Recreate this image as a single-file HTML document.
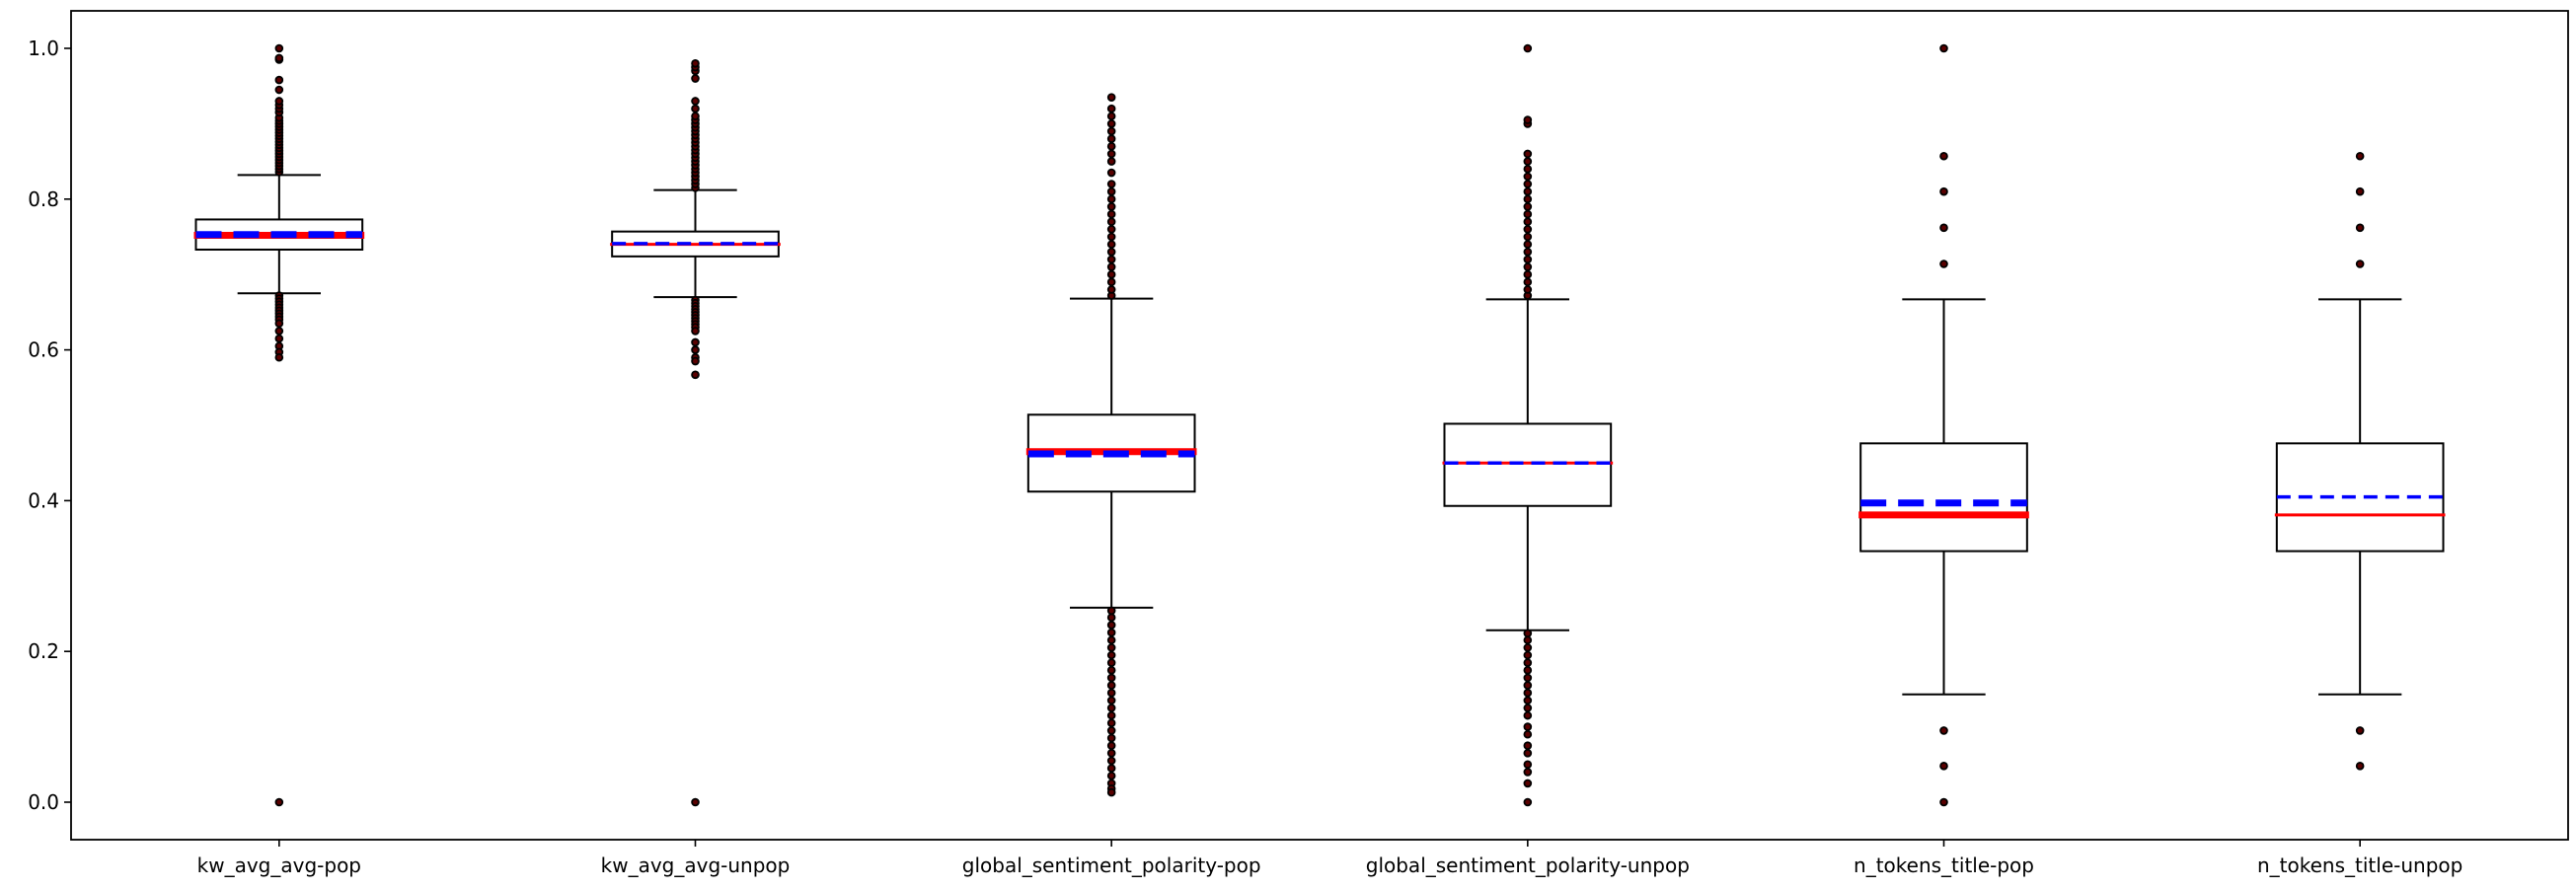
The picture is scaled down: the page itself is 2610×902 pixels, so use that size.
<!DOCTYPE html>
<html><head><meta charset="utf-8"><style>
html,body{margin:0;padding:0;background:#fff;}
svg{display:block;font-family:"DejaVu Sans","Liberation Sans",sans-serif;}
</style></head><body>
<svg id="chart" width="2610" height="902" viewBox="0 0 2610 902" xmlns="http://www.w3.org/2000/svg">
<rect x="0" y="0" width="2610" height="902" fill="#fff"/>
<g id="plot"></g>
<g id="yaxis"></g>
<g id="xaxis"></g>
<rect x="72" y="11" width="2530" height="840" fill="none" stroke="#000" stroke-width="1.8"/>
</svg>
<script>
const categories=["kw_avg_avg-pop","kw_avg_avg-unpop","global_sentiment_polarity-pop","global_sentiment_polarity-unpop","n_tokens_title-pop","n_tokens_title-unpop"];
const q1s=[0.733,0.724,0.412,0.393,0.333,0.333];
const q3s=[0.773,0.757,0.514,0.502,0.476,0.476];
const medians=[0.752,0.740,0.465,0.450,0.381,0.381];
const means=[0.753,0.741,0.462,0.450,0.397,0.405];
const whiskLo=[0.675,0.670,0.258,0.228,0.143,0.143];
const whiskHi=[0.832,0.812,0.668,0.667,0.667,0.667];
const thick=[true,false,true,false,true,false];
const fliers=[
[0.836,0.84,0.844,0.848,0.852,0.856,0.86,0.864,0.868,0.872,0.876,0.88,0.884,0.888,0.892,0.896,0.9,0.904,0.908,0.915,0.92,0.925,0.93,0.945,0.958,0.985,0.987,1.0,0.672,0.668,0.664,0.66,0.656,0.652,0.648,0.644,0.64,0.635,0.625,0.615,0.605,0.597,0.59,0.0],
[0.815,0.82,0.825,0.83,0.835,0.84,0.845,0.85,0.855,0.86,0.865,0.87,0.875,0.88,0.885,0.89,0.895,0.9,0.905,0.91,0.92,0.93,0.96,0.97,0.975,0.98,0.666,0.662,0.658,0.654,0.65,0.646,0.642,0.638,0.634,0.63,0.625,0.61,0.6,0.59,0.585,0.567,0.0],
[0.672,0.68,0.69,0.70,0.71,0.72,0.73,0.74,0.75,0.76,0.77,0.78,0.79,0.80,0.81,0.82,0.835,0.85,0.86,0.87,0.88,0.89,0.9,0.91,0.92,0.935,0.254,0.245,0.235,0.225,0.215,0.205,0.195,0.185,0.175,0.165,0.155,0.145,0.135,0.125,0.115,0.105,0.095,0.085,0.075,0.065,0.055,0.045,0.035,0.025,0.018,0.013],
[0.672,0.68,0.69,0.70,0.71,0.72,0.73,0.74,0.75,0.76,0.77,0.78,0.79,0.80,0.81,0.82,0.83,0.84,0.85,0.86,0.9,0.905,1.0,0.224,0.215,0.205,0.195,0.185,0.175,0.165,0.155,0.145,0.135,0.125,0.115,0.10,0.09,0.075,0.065,0.05,0.04,0.025,0.0],
[0.714,0.762,0.81,0.857,1.0,0.095,0.048,0.0],
[0.714,0.762,0.81,0.857,0.095,0.048]
];
const yTicks=[0.0,0.2,0.4,0.6,0.8,1.0];
const yTickLabels=["0.0","0.2","0.4","0.6","0.8","1.0"];

const NS="http://www.w3.org/2000/svg";
const L=72,R=2602,T=11,B=851;
const xs=i=>L+(R-L)/categories.length*(i+0.5);
const ys=v=>813-v*764;
function mk(tag,attrs,parent){const e=document.createElementNS(NS,tag);for(const k in attrs)e.setAttribute(k,attrs[k]);parent.appendChild(e);return e;}
const plot=document.getElementById('plot'),ya=document.getElementById('yaxis'),xa=document.getElementById('xaxis');
const step=(R-L)/categories.length, bw=step*0.4, cw=bw*0.5;
categories.forEach((c,i)=>{
  const cx=xs(i);
  const g=mk('g',{},plot);
  
  
  const w1=mk('line',{x1:cx,x2:cx,y1:ys(whiskLo[i]),y2:ys(q1s[i]),stroke:'#000','stroke-width':2},g);
  
  
  const w2=mk('line',{x1:cx,x2:cx,y1:ys(whiskHi[i]),y2:ys(q3s[i]),stroke:'#000','stroke-width':2},g);
  
  
  const c1=mk('line',{x1:cx-cw/2,x2:cx+cw/2,y1:ys(whiskLo[i]),y2:ys(whiskLo[i]),stroke:'#000','stroke-width':2},g);
  
  
  const c2=mk('line',{x1:cx-cw/2,x2:cx+cw/2,y1:ys(whiskHi[i]),y2:ys(whiskHi[i]),stroke:'#000','stroke-width':2},g);
  
  
  const bx=mk('rect',{x:cx-bw/2,y:ys(q3s[i]),width:bw,height:ys(q1s[i])-ys(q3s[i]),fill:'none',stroke:'#000','stroke-width':2},g);
  
  
  const lw=thick[i]?7:3;
  const md=mk('line',{x1:cx-bw/2-2,x2:cx+bw/2+2,y1:ys(medians[i]),y2:ys(medians[i]),stroke:'#ff0000','stroke-width':lw},g);
  
  
  const mn=mk('line',{x1:cx-bw/2,x2:cx+bw/2,y1:ys(means[i]),y2:ys(means[i]),stroke:'#0000ff','stroke-width':thick[i]?7:3.5,'stroke-dasharray':thick[i]?'26 12':'14 8'},g);
  
  
  fliers[i].forEach(v=>{
    const p=mk('circle',{cx:cx,cy:ys(v),r:3.4,fill:'#5a0000',stroke:'#000','stroke-width':1.8},g);
    
    
  });
  const tk=mk('line',{x1:cx,x2:cx,y1:B,y2:B+7,stroke:'#000','stroke-width':1.6},xa);
  
  
  const t=mk('text',{x:cx,y:B+33,'text-anchor':'middle','font-size':20,fill:'#000'},xa);
  t.textContent=c;
  
  
});
yTicks.forEach((v,i)=>{
  const tk=mk('line',{x1:L-7,x2:L,y1:ys(v),y2:ys(v),stroke:'#000','stroke-width':1.6},ya);
  
  
  const t=mk('text',{x:L-12,y:ys(v)+7,'text-anchor':'end','font-size':20,fill:'#000'},ya);
  t.textContent=yTickLabels[i];
  
  
});
</script>
</body></html>
